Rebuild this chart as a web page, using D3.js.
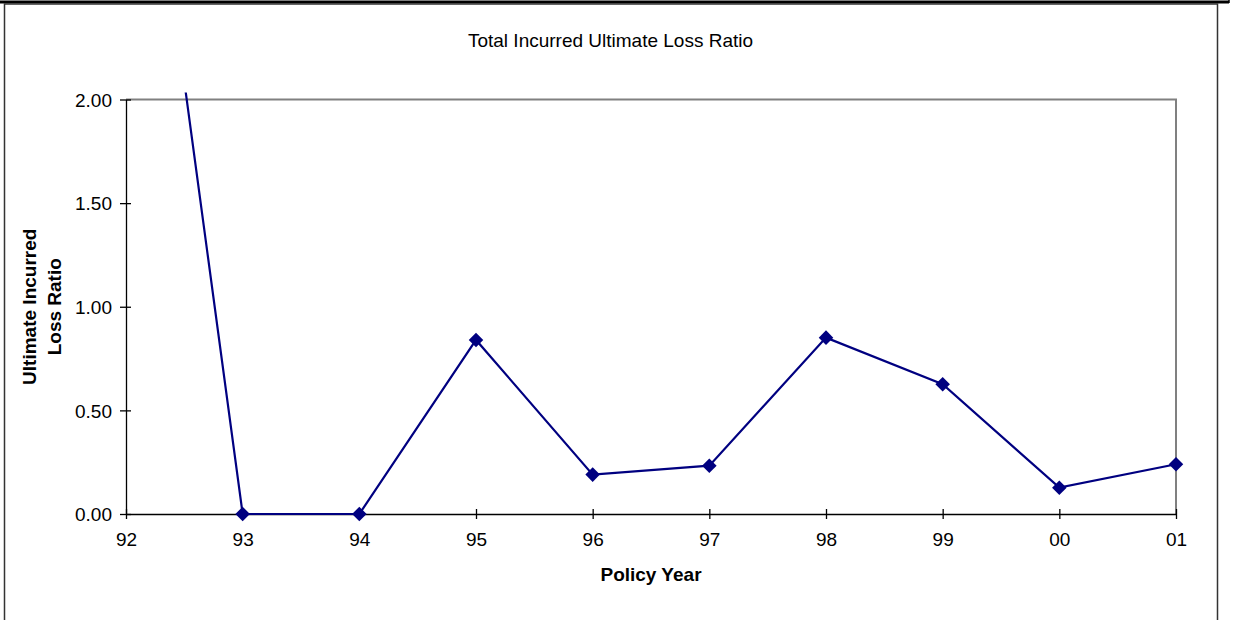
<!DOCTYPE html>
<html>
<head>
<meta charset="utf-8">
<script src="https://cdn.jsdelivr.net/npm/d3@7"></script>
<style>
  html, body { margin: 0; padding: 0; background: #fff; }
  svg { display: block; font-family: "Liberation Sans", Arial, sans-serif; }
</style>
</head>
<body>
<svg id="chart" width="1235" height="620"></svg>
<script>
// Policy years and their ultimate incurred loss ratios
const policyYears = ["92", "93", "94", "95", "96", "97", "98", "99", "00", "01"];
const lossRatios = [4.17, 0.0, 0.0, 0.84, 0.19, 0.233, 0.851, 0.626, 0.127, 0.24];
const yTicks = [0, 0.5, 1.0, 1.5, 2.0];

const chartTitle = "Total Incurred Ultimate Loss Ratio";
const xTitle = "Policy Year";
const yTitleLines = ["Ultimate Incurred", "Loss Ratio"];

const svg = d3.select("#chart");

// Page/frame borders
svg.append("line").attr("x1", 0).attr("x2", 1229).attr("y1", 2).attr("y2", 2)
  .attr("stroke", "#000").attr("stroke-width", 3);
svg.append("line").attr("x1", 1229).attr("x2", 1229).attr("y1", 0).attr("y2", 3)
  .attr("stroke", "#000").attr("stroke-width", 1.5);
svg.append("path").attr("d", "M4.5,620 V4 H1217.5 V620")
  .attr("fill", "none").attr("stroke", "#333").attr("stroke-width", 1.5);

// Plot area
const plot = { left: 126, right: 1176, top: 99.5, bottom: 514 };

const x = d3.scalePoint().domain(policyYears).range([plot.left, plot.right]);
const y = d3.scaleLinear().domain([0, 2]).range([plot.bottom, plot.top]);

// Title
svg.append("text").attr("x", 610.5).attr("y", 47)
  .attr("text-anchor", "middle").attr("font-size", 19).attr("fill", "#000")
  .text(chartTitle);

// Plot-area top and right edges (grey)
svg.append("path")
  .attr("d", `M${plot.left},${plot.top} H${plot.right} V${plot.bottom}`)
  .attr("fill", "none").attr("stroke", "#808080").attr("stroke-width", 2);

// Y axis with cross tick marks
const yAxis = svg.append("g").attr("transform", `translate(${plot.left},0)`)
  .call(d3.axisLeft(y).tickValues(yTicks).tickFormat(d3.format(".2f"))
    .tickSizeInner(5).tickSizeOuter(0).tickPadding(9));
yAxis.select(".domain").attr("stroke", "#000").attr("stroke-width", 1.3);
yAxis.selectAll(".tick line").attr("x2", 5).attr("x1", -6).attr("stroke", "#000").attr("stroke-width", 1.3);
yAxis.selectAll(".tick text").attr("font-size", 19).attr("fill", "#000")
  .attr("font-family", "Liberation Sans, Arial, sans-serif").attr("dy", "0.36em");

// X axis with cross tick marks
const xAxis = svg.append("g").attr("transform", `translate(0,${plot.bottom})`)
  .call(d3.axisBottom(x).tickSizeInner(5).tickSizeOuter(0).tickPadding(14));
xAxis.select(".domain").attr("stroke", "#000").attr("stroke-width", 1.3);
xAxis.selectAll(".tick line").attr("y1", -5).attr("y2", 5).attr("stroke", "#000").attr("stroke-width", 1.3);
xAxis.selectAll(".tick text").attr("font-size", 19).attr("fill", "#000")
  .attr("font-family", "Liberation Sans, Arial, sans-serif").attr("dy", "0.71em");

// Axis titles
svg.append("text").attr("x", (plot.left + plot.right) / 2).attr("y", 581)
  .attr("text-anchor", "middle").attr("font-size", 19).attr("font-weight", "bold")
  .text(xTitle);

const yMid = (plot.top + plot.bottom) / 2;
yTitleLines.forEach((t, i) => {
  svg.append("text")
    .attr("transform", `translate(${36 + i * 24.5},${yMid}) rotate(-90)`)
    .attr("text-anchor", "middle").attr("font-size", 19).attr("font-weight", "bold")
    .text(t);
});

// Series line, clipped just above the plot area
svg.append("clipPath").attr("id", "clip").append("rect")
  .attr("x", plot.left).attr("y", plot.top - 7)
  .attr("width", plot.right - plot.left + 10).attr("height", plot.bottom - plot.top + 20);

const data = policyYears.map((k, i) => ({ k, v: lossRatios[i] }));
const line = d3.line().x(d => x(d.k)).y(d => y(d.v));

svg.append("path").datum(data)
  .attr("clip-path", "url(#clip)")
  .attr("d", line).attr("fill", "none")
  .attr("stroke", "#000080").attr("stroke-width", 2.2);

// Diamond markers (only for points within the axis range)
const diamond = d3.symbol().type(d3.symbolDiamond2).size(135);
svg.append("g").selectAll("path")
  .data(data.filter(d => d.v <= 2))
  .join("path")
  .attr("d", diamond)
  .attr("transform", d => `translate(${x(d.k)},${y(d.v)})`)
  .attr("fill", "#000080");
</script>
</body>
</html>
